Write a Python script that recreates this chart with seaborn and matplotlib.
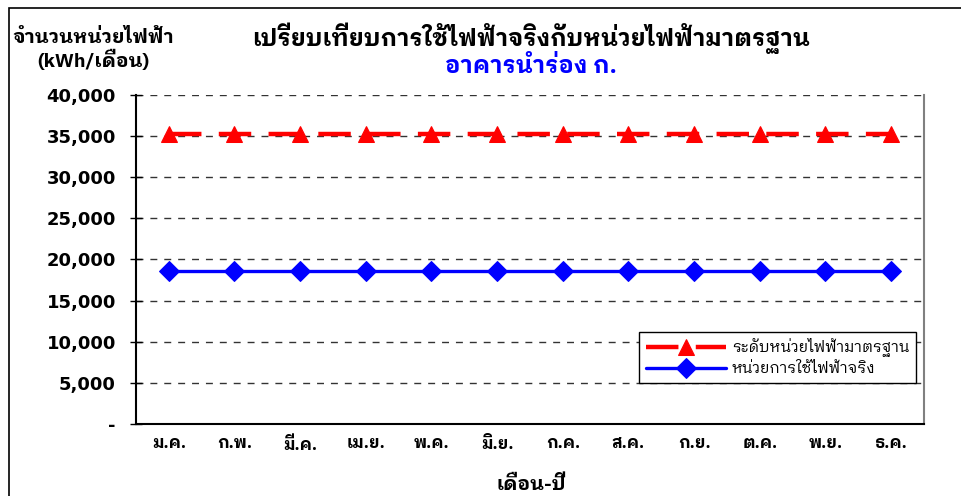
import matplotlib
matplotlib.use('Agg')
import matplotlib.pyplot as plt
import seaborn as sns
import pandas as pd
from matplotlib.ticker import FuncFormatter, FixedLocator
from matplotlib.patches import Rectangle

months = ['ม.ค.', 'ก.พ.', 'มี.ค.', 'เม.ย.', 'พ.ค.', 'มิ.ย.',
          'ก.ค.', 'ส.ค.', 'ก.ย.', 'ต.ค.', 'พ.ย.', 'ธ.ค.']
standard_kwh = [35200, 35200, 35200, 35200, 35200, 35200,
                35200, 35200, 35200, 35200, 35200, 35200]
actual_kwh = [18600, 18600, 18600, 18600, 18600, 18600,
              18600, 18600, 18600, 18600, 18600, 18600]
yticks = [0, 5000, 10000, 15000, 20000, 25000, 30000, 35000, 40000]

label_std = 'ระดับหน่วยไฟฟ้ามาตรฐาน'
label_act = 'หน่วยการใช้ไฟฟ้าจริง'

sns.set_style('white')
plt.rcParams['font.family'] = ['DejaVu Sans', 'IBM Plex Sans Thai Looped']
plt.rcParams['text.color'] = 'black'
plt.rcParams['xtick.color'] = 'black'
plt.rcParams['ytick.color'] = 'black'
thai = ['IBM Plex Sans Thai Looped', 'DejaVu Sans']

df = pd.DataFrame({'pos': list(range(len(months))),
                   'month': months,
                   'std': standard_kwh,
                   'act': actual_kwh})

fig = plt.figure(figsize=(9.61, 4.96), dpi=100)
ax = fig.add_axes([0.1415, 0.1452, 0.82, 0.6633])

sns.lineplot(data=df, x='pos', y='std', ax=ax, color='#ff0000', lw=3.2,
             marker='^', markersize=12, markeredgecolor='#ff0000',
             label=label_std)
ax.lines[-1].set_dashes([7.3, 3.9])
sns.lineplot(data=df, x='pos', y='act', ax=ax, color='#0000ff', lw=2.4,
             marker='D', markersize=10, markeredgecolor='#0000ff',
             label=label_act)

ax.set_xlim(-0.5, len(months) - 0.5)
ax.set_ylim(0, 40000)
ax.set_xticks(df['pos'])
ax.set_xticklabels(months, fontweight='bold', fontsize=12, family=thai)
ax.xaxis.set_minor_locator(FixedLocator([p - 0.5 for p in range(len(months) + 1)]))
ax.tick_params(axis='x', which='major', direction='inout', length=5, width=1, pad=6)
ax.tick_params(axis='x', which='minor', direction='inout', length=8, width=1)

ax.set_yticks(yticks)
ax.yaxis.set_major_formatter(FuncFormatter(lambda v, p: '-' if v == 0 else f'{int(v):,}'))
for t in ax.get_yticklabels():
    t.set_fontweight('bold')
    t.set_fontsize(13)
ax.tick_params(axis='y', direction='inout', length=9, width=1, pad=10, left=True)

ax.yaxis.grid(True, linestyle=(0, (5, 5)), color='#333333', lw=1)
ax.set_axisbelow(True)

ax.spines['top'].set_visible(False)
ax.spines['right'].set_color('#808080')
ax.spines['right'].set_linewidth(1.5)
ax.spines['left'].set_color('black')
ax.spines['bottom'].set_color('black')
ax.spines['left'].set_linewidth(1.5)
ax.spines['bottom'].set_linewidth(1.5)
ax.set_xlabel('')
ax.set_ylabel('')

leg = ax.legend(loc='lower right', bbox_to_anchor=(0.99, 0.125), borderaxespad=0,
                prop={'family': thai, 'size': 11},
                frameon=True, fancybox=False, framealpha=1, edgecolor='black',
                handlelength=5.2, borderpad=0.45, labelspacing=0.3,
                handletextpad=0.4)
leg.get_frame().set_linewidth(1)

fig.text(0.553, 0.923, 'เปรียบเทียบการใช้ไฟฟ้าจริงกับหน่วยไฟฟ้ามาตรฐาน',
         ha='center', va='center', fontsize=17, fontweight='bold', family=thai)
fig.text(0.553, 0.866, 'อาคารนำร่อง ก.', ha='center', va='center',
         fontsize=17, fontweight='bold', color='#0000ff', family=thai)
fig.text(0.097, 0.923, 'จำนวนหน่วยไฟฟ้า', ha='center', va='center',
         fontsize=14, fontweight='bold', family=thai)
fig.text(0.097, 0.878, '(kWh/เดือน)', ha='center', va='center',
         fontsize=14, fontweight='bold', family=thai)
fig.text(0.553, 0.022, 'เดือน-ปี', ha='center', va='center',
         fontsize=14, fontweight='bold', family=thai)

fig.patches.append(Rectangle((9 / 961, -0.1), 1.2, 1.1 - 8 / 496,
                             transform=fig.transFigure, fill=False,
                             edgecolor='black', lw=1.2))

fig.savefig('out.png', dpi=100)
